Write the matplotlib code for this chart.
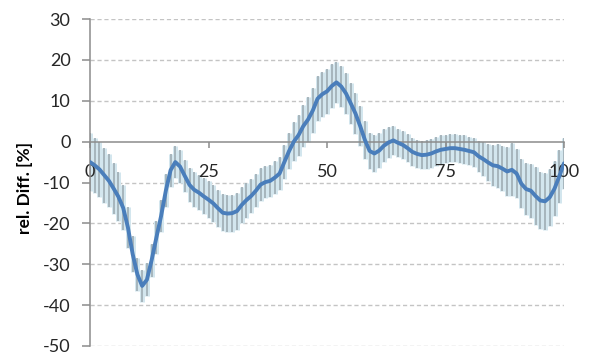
import numpy as np
import matplotlib
matplotlib.use('Agg')
import matplotlib.pyplot as plt

plt.rcParams['font.family'] = ['Lato', 'DejaVu Sans']
plt.rcParams['axes.unicode_minus'] = False

# Gait cycle [%] and relative difference (mean and standard deviation)
cycle = np.arange(0, 101)
rel_diff = [
    -5.0, -5.8, -6.8, -8.2, -9.6, -11.5, -13.5, -16.2, -21.0, -27.5,
    -32.5, -35.3, -33.8, -29.0, -23.5, -18.2, -12.0, -7.0, -5.0, -6.1,
    -8.4, -10.6, -11.8, -12.5, -13.4, -14.2, -15.1, -16.3, -17.4, -17.6,
    -17.5, -17.0, -15.5, -14.3, -13.3, -12.0, -10.5, -9.9, -9.6, -8.8,
    -7.8, -5.0, -2.3, 0.0, 1.6, 3.8, 5.4, 7.6, 10.5, 11.6,
    12.3, 13.6, 14.5, 13.5, 11.8, 9.4, 6.9, 3.8, 0.4, -2.3,
    -2.9, -2.2, -1.0, -0.2, 0.3, -0.3, -0.8, -1.6, -2.5, -3.0,
    -3.3, -3.2, -2.9, -2.4, -2.0, -1.8, -1.6, -1.6, -1.8, -2.0,
    -2.3, -2.6, -3.6, -4.3, -5.1, -5.8, -6.0, -6.6, -7.3, -6.9,
    -7.8, -10.3, -11.6, -12.0, -13.3, -14.4, -14.6, -13.6, -11.5, -8.5,
    -5.3,
]
rel_sd = [
    7.0, 6.8, 6.8, 6.7, 6.5, 6.3, 6.0, 5.5, 5.0, 4.5,
    4.0, 4.0, 4.0, 4.0, 4.0, 4.0, 4.0, 4.0, 4.0, 4.0,
    4.0, 4.2, 4.3, 4.3, 4.4, 4.5, 4.5, 4.5, 4.5, 4.5,
    4.5, 4.5, 4.4, 4.3, 4.2, 4.0, 4.0, 4.0, 4.0, 4.0,
    4.0, 4.2, 4.5, 4.8, 5.0, 5.2, 5.4, 5.5, 5.5, 5.5,
    5.5, 5.3, 5.0, 5.0, 5.0, 5.0, 5.0, 4.8, 4.6, 4.5,
    4.5, 4.3, 4.0, 3.8, 3.5, 3.5, 3.5, 3.5, 3.5, 3.5,
    3.5, 3.5, 3.5, 3.5, 3.5, 3.5, 3.5, 3.5, 3.5, 3.5,
    3.5, 3.6, 3.8, 4.2, 4.6, 5.0, 5.3, 5.5, 6.0, 6.5,
    6.0, 6.0, 6.3, 6.6, 7.0, 7.0, 7.0, 7.0, 6.8, 6.4,
    6.2,
]
yticks = [30, 20, 10, 0, -10, -20, -30, -40, -50]
xticks = [0, 25, 50, 75, 100]

fig = plt.figure(figsize=(5.98, 3.58), dpi=100)
ax = fig.add_axes([90/598, 12/358, 474/598, 327/358])

axis_grey = '#8c8c8c'
for yt in yticks:
    if yt != 0:
        ax.axhline(yt, color='#c4c4c4', lw=1.0, ls=(0, (3, 2)), zorder=0)

# error bars: light blue fill with grey line
ax.errorbar(cycle, rel_diff, yerr=rel_sd, fmt='none', ecolor='#d3e6ee',
            elinewidth=3.6, capsize=0, zorder=1)
ax.errorbar(cycle, rel_diff, yerr=rel_sd, fmt='none', ecolor='#a3b1b8',
            elinewidth=1.3, capsize=0, zorder=1.5)
ax.plot(cycle, rel_diff, color='#4a7ebb', lw=2.8, solid_capstyle='round', zorder=3)

ax.set_xlim(0, 100)
ax.set_ylim(-50, 30)
ax.set_xticks(xticks)
ax.set_yticks(yticks)

ax.spines['top'].set_visible(False)
ax.spines['right'].set_visible(False)
ax.spines['bottom'].set_position(('data', 0))
for s in ['left', 'bottom']:
    ax.spines[s].set_color(axis_grey)
    ax.spines[s].set_linewidth(1.1)
    ax.spines[s].set_zorder(2)

ax.tick_params(axis='y', direction='out', length=6, width=1.1, color=axis_grey,
               pad=8, labelsize=13, labelcolor='#262626')
ax.tick_params(axis='x', direction='out', length=4, width=1.1, color=axis_grey,
               pad=12, labelsize=13, labelcolor='#262626')

fig.text(25/598, 1 - 188/358, 'rel. Diff. [%]', rotation=90, ha='center',
         va='center', fontsize=12.5, fontweight='bold', color='#000000')

fig.savefig('out.png', dpi=100)
